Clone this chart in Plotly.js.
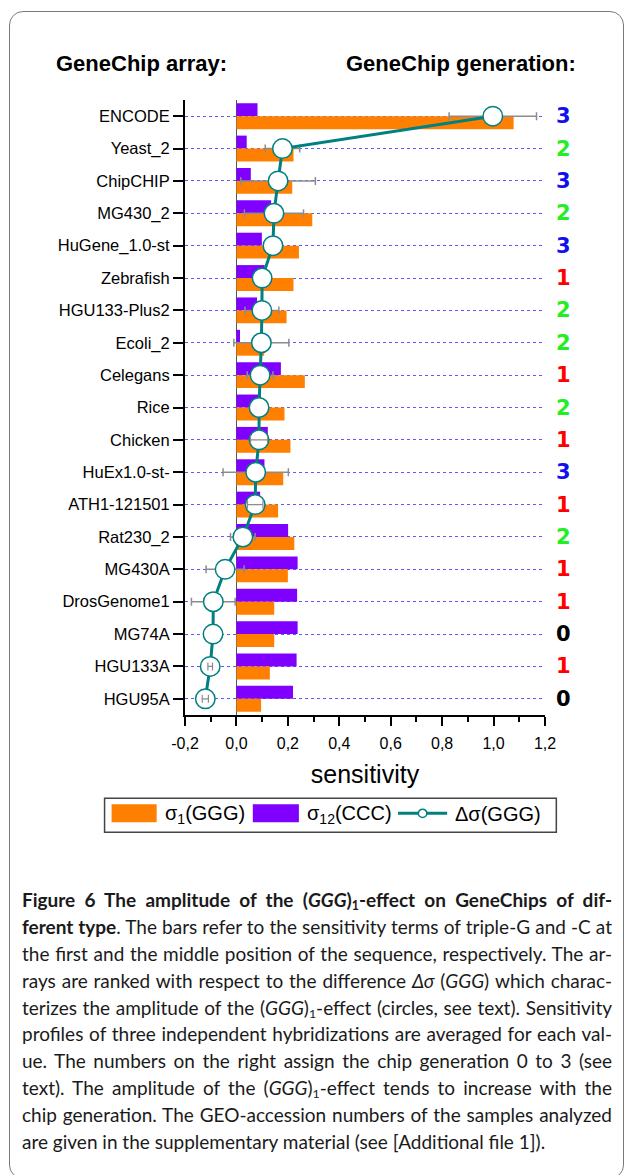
<!DOCTYPE html>
<html>
<head>
<meta charset="utf-8">
<script src="https://cdn.plot.ly/plotly-3.0.1.min.js"></script>
<style>
html,body{margin:0;padding:0;background:#fff;width:628px;height:1175px;overflow:hidden;}
#frame{position:absolute;left:9px;top:11px;width:615px;height:1168px;border:1.5px solid #7a7a7a;border-radius:14px;box-sizing:border-box;}
#chart{position:absolute;left:0;top:0;width:628px;height:860px;}
#caption{position:absolute;left:22px;top:887px;width:590px;font-family:Lato,"Noto Sans",sans-serif;font-size:19px;color:#1a1a1a;}
.ln{white-space:nowrap;height:26.9px;line-height:26.9px;}
.ln span{display:inline-block;}
sub{font-size:65%;vertical-align:-3px;line-height:0;}
</style>
</head>
<body>
<div id="frame"></div>
<div id="chart"></div>
<div id="caption">
<div class="ln"><span><b>Figure 6 The amplitude of the (<i>GGG</i>)<sub>1</sub>-effect on GeneChips of dif-</b></span></div>
<div class="ln"><span><b>ferent type</b>. The bars refer to the sensitivity terms of triple-G and -C at</span></div>
<div class="ln"><span>the first and the middle position of the sequence, respectively. The ar-</span></div>
<div class="ln"><span>rays are ranked with respect to the difference <i>Δσ</i> (<i>GGG</i>) which charac-</span></div>
<div class="ln"><span>terizes the amplitude of the (<i>GGG</i>)<sub>1</sub>-effect (circles, see text). Sensitivity</span></div>
<div class="ln"><span>profiles of three independent hybridizations are averaged for each val-</span></div>
<div class="ln"><span>ue. The numbers on the right assign the chip generation 0 to 3 (see</span></div>
<div class="ln"><span>text). The amplitude of the (<i>GGG</i>)<sub>1</sub>-effect tends to increase with the</span></div>
<div class="ln"><span>chip generation. The GEO-accession numbers of the samples analyzed</span></div>
<div class="ln last"><span>are given in the supplementary material (see [Additional file 1]).</span></div>
</div>
<script>
// ---- data (top to bottom) ----
const categories = ['ENCODE','Yeast_2','ChipCHIP','MG430_2','HuGene_1.0-st','Zebrafish','HGU133-Plus2','Ecoli_2','Celegans','Rice','Chicken','HuEx1.0-st-','ATH1-121501','Rat230_2','MG430A','DrosGenome1','MG74A','HGU133A','HGU95A'];
const sigma1GGG  = [1.078, 0.222, 0.217, 0.295, 0.243, 0.222, 0.195, 0.108, 0.266, 0.187, 0.210, 0.182, 0.162, 0.225, 0.200, 0.147, 0.147, 0.130, 0.096];
const sigma12CCC = [0.082, 0.040, 0.056, 0.135, 0.099, 0.110, 0.080, 0.014, 0.173, 0.095, 0.122, 0.109, 0.092, 0.201, 0.238, 0.236, 0.238, 0.234, 0.220];
const deltaSigma = [0.997, 0.179, 0.162, 0.146, 0.142, 0.100, 0.099, 0.097, 0.092, 0.088, 0.088, 0.075, 0.073, 0.025, -0.044, -0.090, -0.091, -0.102, -0.121];
const deltaErr   = [0.170, 0.067, 0.145, 0.115, 0, 0, 0.066, 0.107, 0.050, 0, 0.033, 0.127, 0.030, 0.048, 0.074, 0.085, 0, 0.009, 0.012];
const generation = [3,2,3,2,3,1,2,2,1,2,1,3,1,2,1,1,0,1,0];
const xTickVals  = [-0.2,0,0.2,0.4,0.6,0.8,1.0,1.2];
const xTickText  = ['-0,2','0,0','0,2','0,4','0,6','0,8','1,0','1,2'];
const seriesNames = ['σ<sub>1</sub>(GGG)','σ<sub>12</sub>(CCC)','Δσ(GGG)'];

const genColors = {0:'#000000',1:'#ff0000',2:'#22ee22',3:'#1010ee'};
const FONT = '"Liberation Sans", Arial, sans-serif';
const ORANGE = '#ff8000', PURPLE = '#8000ff', TEAL = '#008080', ERRGRAY = '#8c8c8c';

// plot-area geometry (px) used to place the hand-drawn legend
const W = 628, H = 860, ML = 185.3, MR = 83.3, MT = 99.5, MB = 144.5;
const PW = W - ML - MR, PH = H - MT - MB;
const px = x => (x - ML) / PW;
const py = y => (H - MB - y) / PH;
const XRANGE = [-0.2, 1.2];
const MSIZE = 19.5;
const markerRadiusUnits = (MSIZE / 2) / (PW / (XRANGE[1] - XRANGE[0]));

// points whose error bar is shorter than the circle radius: drawn over the circle, as in the original
const smallIdx = deltaErr.map((e,i)=>i).filter(i => deltaErr[i] > 0 && deltaErr[i] < markerRadiusUnits);

const traces = [
  {type:'bar', orientation:'h', y:categories, x:sigma12CCC, name:seriesNames[1],
   marker:{color:PURPLE}, showlegend:false},
  {type:'bar', orientation:'h', y:categories, x:sigma1GGG, name:seriesNames[0],
   marker:{color:ORANGE}, showlegend:false},
  {type:'scatter', mode:'lines+markers', y:categories, x:deltaSigma, name:seriesNames[2],
   error_x:{type:'data', array:deltaErr, color:ERRGRAY, thickness:1.5, width:4},
   line:{color:TEAL, width:3},
   marker:{symbol:'circle', size:MSIZE, color:'#ffffff', line:{color:TEAL, width:1.5}},
   showlegend:false, cliponaxis:false},
  {type:'scatter', mode:'markers', y:smallIdx.map(i=>categories[i]), x:smallIdx.map(i=>deltaSigma[i]),
   name:seriesNames[2],
   error_x:{type:'data', array:smallIdx.map(i=>deltaErr[i]), color:ERRGRAY, thickness:1.2, width:4},
   marker:{size:1, opacity:0}, showlegend:false, hoverinfo:'skip', cliponaxis:false}
];

const annotations = categories.map((c,i)=>({
  xref:'paper', yref:'y', x:1.051, y:c, xanchor:'center', yanchor:'middle',
  text:'<b>'+generation[i]+'</b>', showarrow:false,
  font:{family:'"DejaVu Sans", sans-serif', size:21, color:genColors[generation[i]]}
}));
annotations.push({xref:'paper', yref:'paper', x:px(55), y:py(63), xanchor:'left', yanchor:'middle',
  text:'<b>GeneChip array:</b>', showarrow:false, font:{family:FONT, size:22, color:'#000'}});
annotations.push({xref:'paper', yref:'paper', x:px(344), y:py(63), xanchor:'left', yanchor:'middle',
  text:'<b>GeneChip generation:</b>', showarrow:false, font:{family:FONT, size:22, color:'#000'}});

// legend (drawn by hand so the swatches match the reference)
const legY = 814;
const legendText = [[163, seriesNames[0]], [305, seriesNames[1]], [453, seriesNames[2]]];
legendText.forEach(([x,t])=>annotations.push({xref:'paper', yref:'paper', x:px(x), y:py(legY+1),
  xanchor:'left', yanchor:'middle', text:t, showarrow:false, font:{family:FONT, size:20, color:'#000'}}));
const shapes = [
  {type:'rect', xref:'paper', yref:'paper', x0:px(105), x1:px(556), y0:py(833), y1:py(799),
   line:{color:'#444', width:1.5}, fillcolor:'rgba(0,0,0,0)'},
  {type:'rect', xref:'paper', yref:'paper', x0:px(112), x1:px(157), y0:py(823), y1:py(805),
   line:{width:0}, fillcolor:ORANGE},
  {type:'rect', xref:'paper', yref:'paper', x0:px(253), x1:px(299), y0:py(823), y1:py(805),
   line:{width:0}, fillcolor:PURPLE},
  {type:'line', xref:'paper', yref:'paper', x0:px(398), x1:px(447), y0:py(legY), y1:py(legY),
   line:{color:TEAL, width:3}},
  {type:'circle', xref:'paper', yref:'paper', x0:px(418.3), x1:px(426.7), y0:py(legY+4.2), y1:py(legY-4.2),
   line:{color:TEAL, width:1.5}, fillcolor:'#ffffff'}
];

const layout = {
  width:W, height:H,
  margin:{l:ML, r:MR, t:MT, b:MB, pad:0},
  paper_bgcolor:'rgba(0,0,0,0)', plot_bgcolor:'rgba(0,0,0,0)',
  font:{family:FONT, color:'#000', size:16},
  barmode:'group', bargap:0.2, bargroupgap:0,
  showlegend:false,
  xaxis:{range:XRANGE, tickmode:'array', tickvals:xTickVals, ticktext:xTickText,
    ticks:'outside', ticklen:9, tickwidth:2, tickcolor:'#000', ticklabelstandoff:4,
    minor:{tickmode:'linear', tick0:-0.2, dtick:0.1, ticks:'outside', ticklen:5, tickwidth:2, tickcolor:'#000', showgrid:false},
    showline:true, linecolor:'#000', linewidth:2, showgrid:false,
    zeroline:true, zerolinecolor:'#555', zerolinewidth:1.5, automargin:false,
    tickfont:{family:FONT, size:16, color:'#000'},
    title:{text:'sensitivity', font:{family:FONT, size:25, color:'#000'}, standoff:14}},
  yaxis:{type:'category', categoryorder:'array', categoryarray:categories, range:[18.5,-0.5],
    ticks:'outside', ticklen:10, tickwidth:2, tickcolor:'#000', automargin:false,
    showline:true, linecolor:'#000', linewidth:2,
    showgrid:true, gridcolor:'#5a5aff', griddash:'dot', gridwidth:1, zeroline:false,
    tickfont:{family:FONT, size:16.5, color:'#000'}},
  annotations:annotations,
  shapes:shapes
};

Plotly.newPlot('chart', traces, layout, {displayModeBar:false, staticPlot:true});

// justify caption lines
document.querySelectorAll('#caption .ln').forEach(ln=>{
  if (ln.classList.contains('last')) return;
  const sp = ln.querySelector('span');
  const target = 590;
  const w = sp.getBoundingClientRect().width;
  const txt = sp.textContent;
  const spaces = (txt.match(/ /g)||[]).length;
  if (w < target) sp.style.wordSpacing = ((target-w)/spaces)+'px';
  else sp.style.letterSpacing = (-(w-target)/txt.length)+'px';
});
</script>
</body>
</html>
